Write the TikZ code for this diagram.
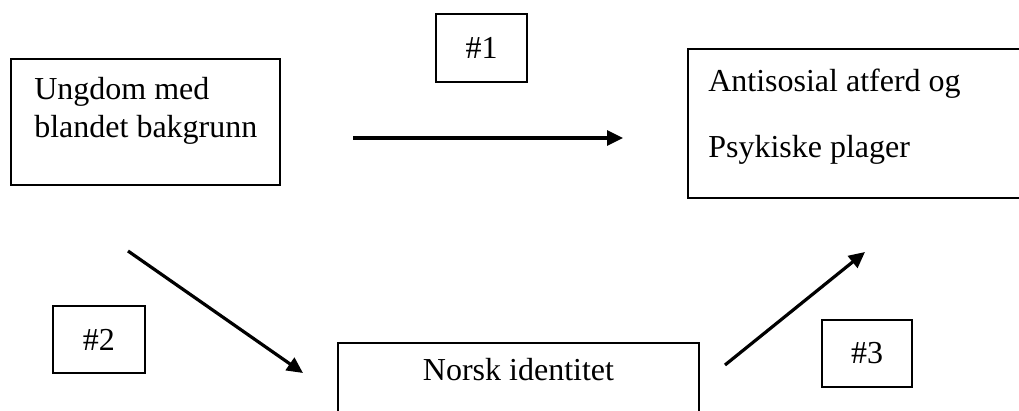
\documentclass[tikz,border=0pt]{standalone}
\usepackage{fontspec}
\setmainfont{Liberation Serif}
\usetikzlibrary{arrows.meta, positioning}

\begin{document}
\begin{tikzpicture}[x=0.5pt, y=-0.5pt,
    box/.style={rectangle, draw, line width=1.1pt, inner sep=0pt},
    txt/.style={font=\fontsize{16}{19}\selectfont, inner sep=0pt, align=left},
    conn/.style={-{Triangle[length=8pt,width=7.5pt]}, line width=1.6pt}
]
    \useasboundingbox (0,0) rectangle (1019,411);
    \clip (0,0) rectangle (1019,411);

    % main boxes
    \node[box, minimum width=134.5pt, minimum height=63pt,
        label={[txt, anchor=north west, xshift=12pt, yshift=-9.5pt]north west:{Ungdom med\\blandet bakgrunn}}]
        (ungdom) at (145.5,122) {};
    \node[box, minimum width=171pt, minimum height=74.5pt,
        label={[txt, anchor=north west, xshift=10.5pt, yshift=-10.5pt]north west:{Antisosial atferd og\\[14pt]Psykiske plager}}]
        (plager) at (859,123.5) {};
    \node[box, minimum width=180.5pt, minimum height=48.5pt,
        label={[txt, anchor=base, yshift=-19.5pt]north:{Norsk identitet}}]
        (norsk) at (518.5,391.5) {};

    % path labels
    \node[box, txt, minimum width=45.5pt, minimum height=34pt] (nr1) at (481.5,48) {\#1};
    \node[box, txt, minimum width=46pt, minimum height=33.5pt] (nr2) at (99,339.5) {\#2};
    \node[box, txt, minimum width=45pt, minimum height=33.5pt] (nr3) at (867,353.5) {\#3};

    % arrows
    \coordinate (p1s) at (353,138);
    \coordinate (p1e) at (623,138);
    \coordinate (p2s) at (128,251);
    \coordinate (p2e) at (303,373);
    \coordinate (p3s) at (725,365);
    \coordinate (p3e) at (865,252);

    \draw[conn] (p1s) -- (p1e);
    \draw[conn] (p2s) -- (p2e);
    \draw[conn] (p3s) -- (p3e);
\end{tikzpicture}
\end{document}
